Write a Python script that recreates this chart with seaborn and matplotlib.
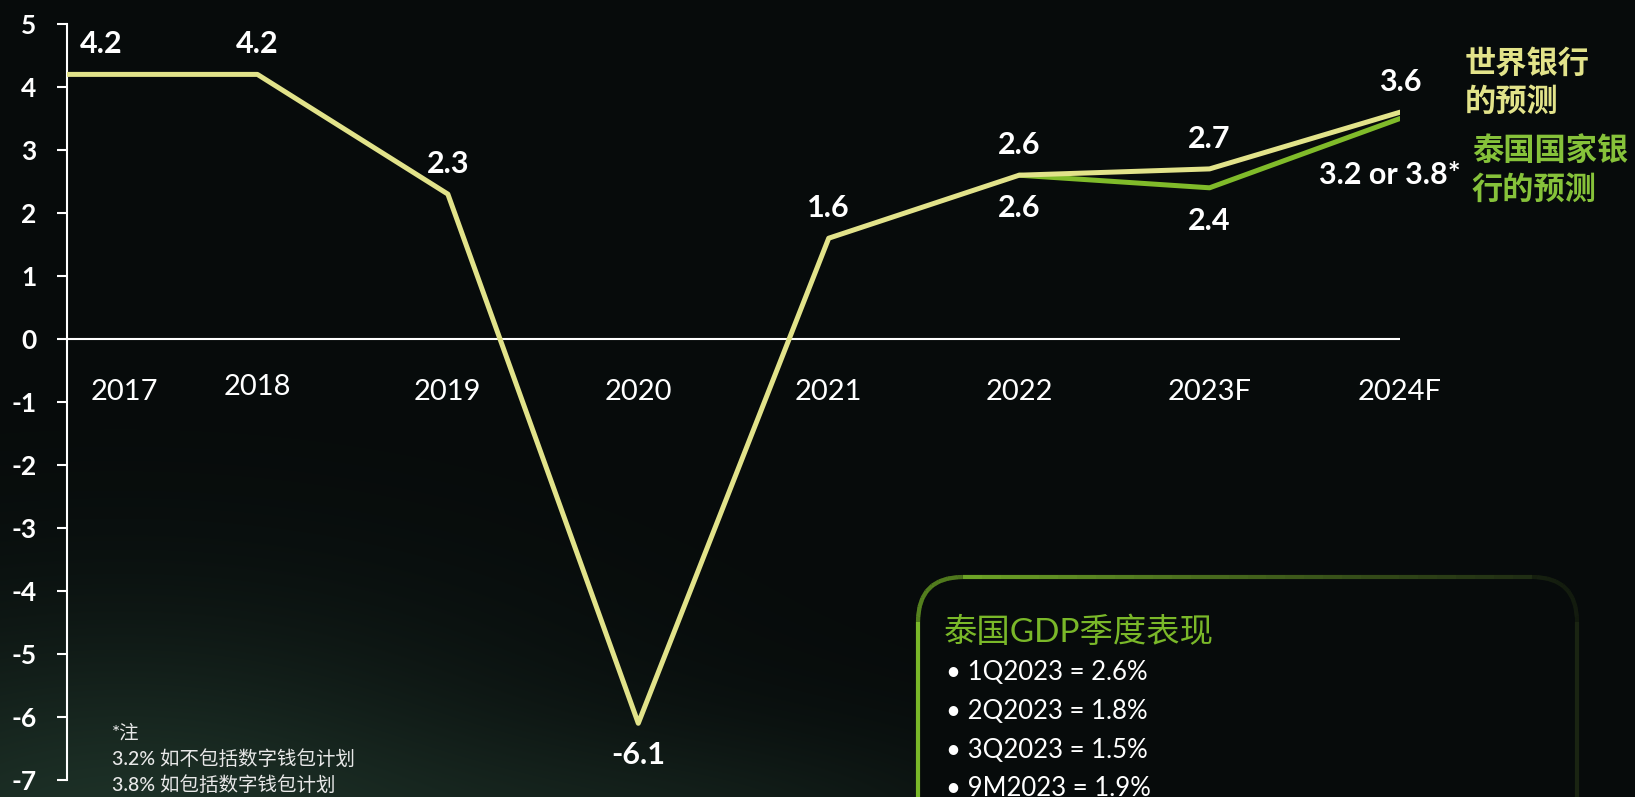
import numpy as np
import pandas as pd
import seaborn as sns
from matplotlib import pyplot as plt
from matplotlib.patches import FancyBboxPatch
from matplotlib.collections import LineCollection

# chart values
years = ['2017', '2018', '2019', '2020', '2021', '2022', '2023F', '2024F']
world_bank = [4.2, 4.2, 2.3, -6.1, 1.6, 2.6, 2.7, 3.6]
bot_years = ['2022', '2023F', '2024F']
bot = [2.6, 2.4, 3.5]
bot_labels = ['2.6', '2.4', '3.2 or 3.8*']
y_ticks = list(range(-7, 6))
quarter_title = '泰国GDP季度表现'
quarters = ['1Q2023 = 2.6%', '2Q2023 = 1.8%', '3Q2023 = 1.5%', '9M2023 = 1.9%']
notes = ['*注', '3.2% 如不包括数字钱包计划', '3.8% 如包括数字钱包计划']
wb_name = ['世界银行', '的预测']
bot_name = ['泰国国家银', '行的预测']

YELLOW = '#e2e38a'
GREEN = '#80bb2a'
BG = '#070b0b'

sns.set_theme(style='dark')
plt.rcParams['font.family'] = ['Lato', 'Noto Sans CJK SC', 'DejaVu Sans']
plt.rcParams['axes.unicode_minus'] = False

df = pd.DataFrame({'x': range(len(years)), 'gdp': world_bank})
df_bot = pd.DataFrame({'x': [years.index(y) for y in bot_years], 'gdp': bot})

W, H = 1635, 797
fig = plt.figure(figsize=(W / 100, H / 100), dpi=100, facecolor=BG)

# background layer in pixel units (y down), with a green haze at bottom left
bg = fig.add_axes([0, 0, 1, 1])
bg.set_xlim(0, W)
bg.set_ylim(H, 0)
bg.axis('off')
xx, yy = np.meshgrid(np.arange(W), np.arange(H))
glow = np.exp(-(((xx - 120) / 430) ** 2 + ((yy - 850) / 220) ** 2))
glow += 0.4 * np.exp(-(((xx - 720) / 320) ** 2 + ((yy - 830) / 100) ** 2))
g = np.clip(glow, 0, 1)[..., None]
base = np.array([7, 11, 11]) / 255
haze = np.array([30, 50, 40]) / 255
bg.imshow(base + g * (haze - base), extent=(0, W, H, 0), aspect='auto', zorder=0)

# rounded box with a fading green border
bx, by, bw, bh = 918, 577, 659, 320
box = FancyBboxPatch((bx, by), bw, bh, boxstyle='round,pad=0,rounding_size=45',
                     facecolor=BG, edgecolor='none', zorder=1)
bg.add_patch(box)
poly = box.get_path().to_polygons()[0]
pts = []
for a, b in zip(poly[:-1], poly[1:]):
    for t in np.linspace(0, 1, 30, endpoint=False):
        pts.append(a + (b - a) * t)
pts = np.array(pts)
segs = np.stack([pts[:-1], pts[1:]], axis=1)
tt = np.clip((segs[:, :, 0].mean(axis=1) - bx) / bw, 0, 1)
c0 = np.array([0x7a, 0xb8, 0x29]) / 255
c1 = np.array([0x1a, 0x24, 0x12]) / 255
cols = c0 + (c1 - c0) * tt[:, None] ** 0.8
bg.add_collection(LineCollection(segs, colors=cols, linewidths=3, zorder=2))

bg.text(944, 632, quarter_title, color='#7ab829', fontsize=24, va='center', ha='left', zorder=3)
for i, q in enumerate(quarters):
    bg.text(946, 673 + 38.5 * i, '• ' + q, color='white', fontsize=18.5, va='center', ha='left', zorder=3)

for i, n in enumerate(notes):
    bg.text(112, 733 + 26 * i, n, color='#e8e8e8', fontsize=14, va='center', ha='left',
            fontweight='medium', zorder=3)

for i, n in enumerate(wb_name):
    bg.text(1465, 63 + 38 * i, n, color=YELLOW, fontsize=22.5, va='center', ha='left', fontweight='bold')
for i, n in enumerate(bot_name):
    bg.text(1472, 150 + 39 * i, n, color='#86c23a', fontsize=22.5, va='center', ha='left', fontweight='bold')

# main chart
ax = fig.add_axes([67 / W, 17 / H, 1333 / W, 756 / H])
ax.patch.set_alpha(0)
ax.axhline(0, color='white', lw=1.5, zorder=1)
sns.lineplot(data=df_bot, x='x', y='gdp', color=GREEN, lw=3.6, ax=ax, zorder=2)
sns.lineplot(data=df, x='x', y='gdp', color=YELLOW, lw=3.6, ax=ax, zorder=3)

ax.set_xlim(0, len(years) - 1)
ax.set_ylim(-7, 5)
ax.set_xticks([])
ax.set_yticks(y_ticks)
ax.set_xlabel('')
ax.set_ylabel('')
ax.grid(False)
ax.tick_params(axis='y', left=True, length=7, width=1.5, color='white', pad=15,
               labelcolor='white', labelsize=19)
for lbl in ax.get_yticklabels():
    lbl.set_fontweight('bold')
for side in ['top', 'right', 'bottom']:
    ax.spines[side].set_visible(False)
ax.spines['left'].set_color('white')
ax.spines['left'].set_linewidth(1.5)

# year labels under the zero line
for i, yr in enumerate(years):
    dx = 57 if i == 0 else 0
    dy = -48 if i == 1 else -53
    ax.annotate(yr, (i, 0), xytext=(dx, dy), textcoords='offset pixels',
                ha='center', va='center', color='white', fontsize=21)

# value labels
lbl_kw = dict(textcoords='offset pixels', ha='center', va='center', color='white',
              fontsize=22, fontweight='bold')
for i, v in enumerate(world_bank):
    dx, dy = 0, 30
    if i == 0:
        dx = 34
    if v < 0:
        dy = -32
    ax.annotate(f'{v:.1f}', (i, v), xytext=(dx, dy), **lbl_kw)
for (x, v), s in zip(df_bot.values, bot_labels):
    if s == bot_labels[-1]:
        ax.annotate(s, (x, v), xytext=(-10, -56), **lbl_kw)
    else:
        ax.annotate(s, (x, v), xytext=(0, -33), **lbl_kw)

fig.savefig('out.png', dpi=100, facecolor=BG)
